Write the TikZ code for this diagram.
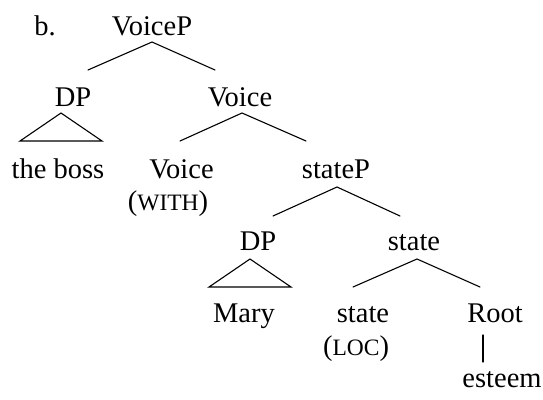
\documentclass[tikz,border=0pt]{standalone}
\usepackage{fontspec}
\setmainfont{Liberation Serif}
\tikzset{
  lbl/.style={font=\fontsize{28.5}{34}\selectfont, inner sep=0pt, anchor=base},
  branch/.style={line width=1.1pt, line cap=round},
}
\newcommand{\smc}[1]{{\fontsize{23.5}{28}\selectfont #1}}
\begin{document}
\begin{tikzpicture}[x=1pt,y=-1pt]
\useasboundingbox (0,0) rectangle (543,399);
% labels
\node[lbl] (b) at (45,35) {b.};
\node[lbl] (VoiceP) at (152,35) {VoiceP};
\node[lbl] (DP1) at (73,106) {DP};
\node[lbl] (Vbar) at (240,106) {Voice};
\node[lbl] (boss) at (58,178) {the boss};
\node[lbl] (Vhead) at (181.5,178) {Voice};
\node[lbl] (with) at (168,210) {(\smc{WITH})};
\node[lbl] (stateP) at (336,178) {stateP};
\node[lbl] (DP2) at (258,250) {DP};
\node[lbl] (sbar) at (414,250) {state};
\node[lbl] (Mary) at (244,322) {Mary};
\node[lbl] (shead) at (363,322) {state};
\node[lbl] (loc) at (356,355) {(\smc{LOC})};
\node[lbl] (Root) at (495,322) {Root};
\node[lbl] (esteem) at (502,387) {esteem};
% branch points
\coordinate (aVP) at (152,42);
\coordinate (eDP1) at (88,70);
\coordinate (eVbar) at (215,70);
\coordinate (tDP1) at (61,113);
\coordinate (tDP1l) at (20,141);
\coordinate (tDP1r) at (102,141);
\coordinate (aVbar) at (242,113);
\coordinate (eVhead) at (180,141);
\coordinate (eStateP) at (306,141);
\coordinate (aSP) at (337,187);
\coordinate (eDP2) at (273,216);
\coordinate (eSbar) at (400,216);
\coordinate (tDP2) at (250,259);
\coordinate (tDP2l) at (209,287);
\coordinate (tDP2r) at (291,287);
\coordinate (aSbar) at (417,259);
\coordinate (eShead) at (353,287);
\coordinate (eRoot) at (480,287);
\coordinate (rTop) at (483,335);
\coordinate (rBot) at (483,362);
% branches
\draw[branch] (eDP1) -- (aVP) -- (eVbar);
\draw[branch] (tDP1l) -- (tDP1) -- (tDP1r) -- cycle;
\draw[branch] (eVhead) -- (aVbar) -- (eStateP);
\draw[branch] (eDP2) -- (aSP) -- (eSbar);
\draw[branch] (tDP2l) -- (tDP2) -- (tDP2r) -- cycle;
\draw[branch] (eShead) -- (aSbar) -- (eRoot);
\draw[branch] (rTop) -- (rBot);
\end{tikzpicture}
\end{document}
